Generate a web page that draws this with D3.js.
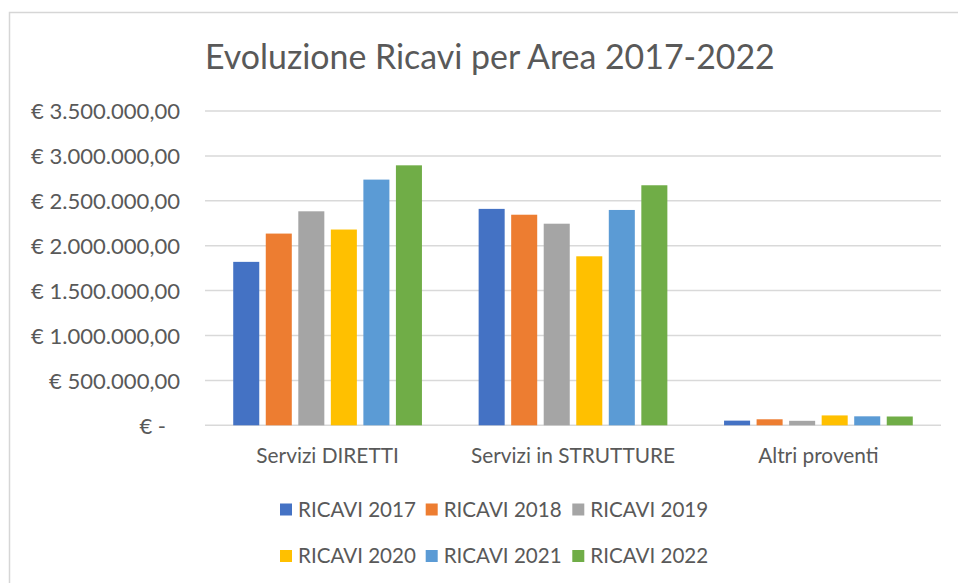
<!DOCTYPE html>
<html>
<head>
<meta charset="utf-8">
<script src="https://cdn.jsdelivr.net/npm/d3@7"></script>
<style>
  html, body { margin: 0; padding: 0; background: #fff; }
  svg { display: block; }
</style>
</head>
<body>
<svg id="chart" width="958" height="583"></svg>
<script>
// ---- data ----
const title = "Evoluzione Ricavi per Area 2017-2022";
const categories = ["Servizi DIRETTI", "Servizi in STRUTTURE", "Altri proventi"];
const seriesNames = ["RICAVI 2017", "RICAVI 2018", "RICAVI 2019", "RICAVI 2020", "RICAVI 2021", "RICAVI 2022"];
const ricavi2017 = [1820000, 2410000, 52000];
const ricavi2018 = [2135000, 2345000, 67000];
const ricavi2019 = [2383000, 2245000, 50000];
const ricavi2020 = [2180000, 1882000, 110000];
const ricavi2021 = [2736000, 2398000, 100000];
const ricavi2022 = [2895000, 2673000, 98000];
const seriesValues = [ricavi2017, ricavi2018, ricavi2019, ricavi2020, ricavi2021, ricavi2022];
const colors = ["#4472C4", "#ED7D31", "#A5A5A5", "#FFC000", "#5B9BD5", "#70AD47"];
const yTicks = [0, 500000, 1000000, 1500000, 2000000, 2500000, 3000000, 3500000];

// ---- layout ----
const FONT = "Lato, 'Open Sans', sans-serif";
const TEXT = "#595959";
const GRID = "#d9d9d9";
const plot = { left: 205, right: 941, top: 111, bottom: 425.3 };

const svg = d3.select("#chart");

function fitSize(str, target, weight) {
  const t = svg.append("text").attr("font-family", FONT).attr("font-size", 100)
    .attr("font-weight", weight || 400).text(str);
  const w = t.node().getComputedTextLength();
  t.remove();
  return 100 * target / w;
}

// chart border
svg.append("rect")
  .attr("x", 9.5).attr("y", 12.5).attr("width", 1000).attr("height", 1000)
  .attr("fill", "#fff").attr("stroke", "#d6d6d6").attr("stroke-width", 1.5);

// title
svg.append("text")
  .attr("x", 205).attr("y", 69)
  .attr("font-family", FONT).attr("font-weight", 400)
  .attr("font-size", fitSize(title, 570, 400))
  .attr("fill", TEXT).text(title);

// scales
const x0 = d3.scaleBand().domain(categories).range([plot.left, plot.right])
  .paddingInner(0.231).paddingOuter(0.115);
const x1 = d3.scaleBand().domain(d3.range(seriesNames.length)).range([0, x0.bandwidth()])
  .paddingInner(0.2).paddingOuter(0);
const y = d3.scaleLinear().domain([0, 3500000]).range([plot.bottom, plot.top]);

const loc = d3.formatLocale({ decimal: ",", thousands: ".", grouping: [3], currency: ["€ ", ""] });
const fmt = loc.format("$,.2f");
const tickFmt = v => v === 0 ? "€ -" : fmt(v);

// gridlines
svg.append("g").selectAll("line").data(yTicks).join("line")
  .attr("x1", plot.left).attr("x2", plot.right)
  .attr("y1", d => y(d)).attr("y2", d => y(d))
  .attr("stroke", GRID).attr("stroke-width", 1.5);

// y axis labels
const tickSize = fitSize("€ 3.500.000,00", 149);
const yAxis = svg.append("g").attr("transform", "translate(180,0)")
  .call(d3.axisLeft(y).tickValues(yTicks).tickFormat(tickFmt).tickSize(0).tickPadding(0));
yAxis.select(".domain").remove();
yAxis.selectAll("text")
  .attr("font-family", FONT).attr("font-size", tickSize).attr("fill", TEXT)
  .attr("dy", "0.35em")
  .attr("x", d => d === 0 ? -14 : 0);

// bars
const groups = svg.append("g").selectAll("g").data(categories).join("g")
  .attr("transform", c => `translate(${x0(c)},0)`);
groups.selectAll("rect")
  .data((c, ci) => seriesValues.map((vals, si) => ({ si, v: vals[ci] })))
  .join("rect")
  .attr("x", d => x1(d.si))
  .attr("width", x1.bandwidth())
  .attr("y", d => y(d.v))
  .attr("height", d => y(0) - y(d.v))
  .attr("fill", d => colors[d.si]);

// x axis labels
const catSize = fitSize("Servizi DIRETTI", 142.6);
const xAxis = svg.append("g").attr("transform", `translate(0,${plot.bottom})`)
  .call(d3.axisBottom(x0).tickSize(0).tickPadding(0));
xAxis.select(".domain").remove();
xAxis.selectAll("text")
  .attr("font-family", FONT).attr("font-size", catSize).attr("fill", TEXT)
  .attr("y", 38).attr("dy", 0);

// legend
const legSize = fitSize("RICAVI 2017", 118);
const legX = [280, 425.7, 572.3];
const legY = [509.5, 556];
const leg = svg.append("g").selectAll("g").data(seriesNames).join("g")
  .attr("transform", (d, i) => `translate(${legX[i % 3]},${legY[Math.floor(i / 3)]})`);
leg.append("rect").attr("x", 0).attr("y", -6).attr("width", 12).attr("height", 12)
  .attr("fill", (d, i) => colors[i]);
leg.append("text").attr("x", 18).attr("y", 0).attr("dy", "0.36em")
  .attr("font-family", FONT).attr("font-size", legSize).attr("fill", TEXT)
  .text(d => d);
</script>
</body>
</html>
